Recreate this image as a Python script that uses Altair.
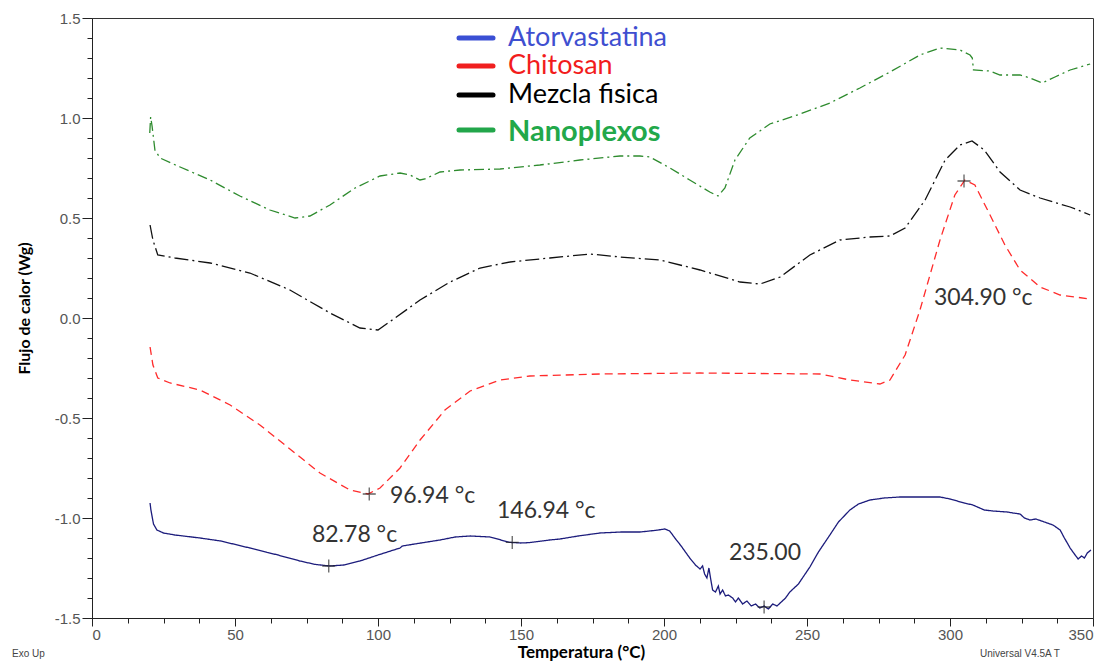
import altair as alt
import pandas as pd

# ---------------- data ----------------
series_names = ["Atorvastatina", "Chitosan", "Mezcla fisica", "Nanoplexos"]

atorva_T = [20.3, 20.6, 21.5, 22.7, 25, 29, 37.8, 45, 55.2, 65, 72.7, 78, 83.2, 88, 93.7, 100, 107.7, 108.5,
            115, 121.7, 127, 132.2, 139.2, 143, 146, 150, 153, 160, 163.6, 170, 177.6, 185, 191.6, 197, 200.3,
            202, 203.8, 206, 209, 211, 212.6, 213.5, 214.2, 215, 215.7, 216.5, 217, 218, 219, 219.6, 220.5,
            221.5, 222.5, 224, 225, 226, 227.5, 229, 230.5, 232, 233.5, 235, 236.5, 238, 239.5, 241, 242.5,
            244, 247, 251, 254, 258, 261, 265, 268, 272, 277, 282.5, 290, 296.5, 300, 305, 308, 312, 315, 320,
            322, 324.5, 326, 328, 330, 333, 336, 338.5, 340, 342, 343.5, 344.8, 346, 347, 348, 349.3]
atorva_W = [-0.925, -0.96, -1.03, -1.06, -1.075, -1.085, -1.10, -1.115, -1.15, -1.185, -1.215, -1.232, -1.24,
            -1.235, -1.215, -1.185, -1.15, -1.14, -1.125, -1.11, -1.095, -1.09, -1.095, -1.11, -1.122, -1.125,
            -1.123, -1.11, -1.105, -1.09, -1.075, -1.07, -1.07, -1.062, -1.055, -1.065, -1.10, -1.14, -1.20,
            -1.235, -1.255, -1.24, -1.28, -1.30, -1.25, -1.32, -1.36, -1.37, -1.34, -1.38, -1.36, -1.39, -1.385,
            -1.40, -1.42, -1.40, -1.43, -1.415, -1.44, -1.43, -1.45, -1.44, -1.455, -1.43, -1.44, -1.42, -1.40,
            -1.37, -1.33, -1.245, -1.17, -1.085, -1.02, -0.96, -0.93, -0.91, -0.90, -0.895, -0.895, -0.895,
            -0.905, -0.925, -0.935, -0.96, -0.965, -0.97, -0.975, -0.98, -1.0, -1.01, -1.005, -1.02, -1.035,
            -1.06, -1.10, -1.15, -1.18, -1.205, -1.19, -1.20, -1.175, -1.16]

chitosan_T = [20.3, 21.3, 23, 27.3, 37.8, 48.3, 58.7, 69.2, 79.7, 90.2, 96.5, 100.7, 107.7, 114.7, 123.4,
              132.2, 142.7, 153.1, 177.6, 212.6, 254.5, 265, 275.5, 279, 284.3, 289.5, 296.5, 301.7, 305.2,
              308.7, 314, 319.2, 324.5, 331.5, 338.5, 349]
chitosan_W = [-0.145, -0.235, -0.30, -0.325, -0.36, -0.435, -0.535, -0.655, -0.775, -0.86, -0.88, -0.85,
              -0.75, -0.61, -0.46, -0.365, -0.31, -0.29, -0.28, -0.275, -0.28, -0.31, -0.33, -0.31, -0.185,
              0.04, 0.39, 0.615, 0.69, 0.665, 0.515, 0.365, 0.24, 0.155, 0.115, 0.095]

mezcla_T = [20.3, 21.3, 23, 29, 41.3, 55.2, 69.2, 83.2, 93.7, 100, 106, 114.7, 125.2, 135.7, 146.2, 160.1,
            174.1, 184.6, 198.6, 212.6, 226.6, 233.6, 240.6, 251, 261.5, 272, 279, 284.3, 291.3, 298.3,
            303.5, 307.7, 312, 317.5, 324.5, 331.5, 342, 349]
mezcla_W = [0.465, 0.39, 0.315, 0.30, 0.275, 0.225, 0.14, 0.025, -0.05, -0.06, 0.0, 0.09, 0.18, 0.25, 0.28,
            0.30, 0.32, 0.305, 0.29, 0.24, 0.18, 0.17, 0.205, 0.315, 0.39, 0.405, 0.41, 0.45, 0.59, 0.79,
            0.865, 0.885, 0.84, 0.73, 0.64, 0.60, 0.555, 0.515]

nano_T = [20.2, 20.5, 21.0, 22, 23.8, 30.8, 41.3, 51.7, 62.2, 71, 76.2, 83.2, 92, 100.7, 107.7, 111.2, 114.7,
          116.4, 121.7, 128.7, 142.7, 156.6, 170.6, 184.6, 191.6, 195.1, 202.1, 209, 216, 218.9, 221.3, 224.8,
          230, 237, 247.6, 258, 268.5, 279, 289.5, 296.5, 303.5, 307, 307.8, 308.2, 314, 317.5, 324.5, 328,
          332.2, 336.7, 342, 349]
nano_W = [0.925, 1.005, 0.96, 0.84, 0.80, 0.755, 0.69, 0.61, 0.54, 0.50, 0.51, 0.565, 0.65, 0.71, 0.725,
          0.715, 0.69, 0.695, 0.73, 0.74, 0.745, 0.765, 0.79, 0.81, 0.81, 0.805, 0.75, 0.69, 0.63, 0.61, 0.65,
          0.79, 0.90, 0.97, 1.02, 1.075, 1.15, 1.23, 1.315, 1.35, 1.34, 1.315, 1.30, 1.24, 1.235, 1.215, 1.215,
          1.20, 1.175, 1.205, 1.24, 1.27]

peak_T = [82.78, 146.94, 235.0, 96.94, 304.90]
peak_W = [-1.24, -1.122, -1.445, -0.88, 0.685]

note_text = ["82.78 °c", "146.94 °c", "235.00", "96.94 °c", "304.90 °c"]
note_T = [76.9, 141.6, 222.7, 104.2, 294.4]
note_W = [-1.085, -0.965, -1.175, -0.89, 0.10]

x_ticks = [i * 12.5 for i in range(29)]
y_ticks = [round(-1.5 + 0.1 * i, 1) for i in range(31)]

# ---------------- styles ----------------
line_colors = ["#1c1c7c", "#ff2b2b", "#111111", "#2e8b2e"]
line_dashes = [[1, 0], [8, 5], [14, 4, 2, 4], [10, 4, 2, 4]]
legend_line_colors = ["#3a4fd4", "#f01f1f", "#000000", "#22a64a"]
legend_text_colors = ["#3f4fd0", "#f21c1c", "#000000", "#22a84a"]

rows = []
for name, Ts, Ws in zip(series_names,
                        [atorva_T, chitosan_T, mezcla_T, nano_T],
                        [atorva_W, chitosan_W, mezcla_W, nano_W]):
    for i, (t, w) in enumerate(zip(Ts, Ws)):
        rows.append({"serie": name, "T": t, "W": w, "i": i})
df = pd.DataFrame(rows)

peaks = pd.DataFrame({"T": peak_T, "W": peak_W})
notes = pd.DataFrame({"T": note_T, "W": note_W, "txt": note_text})

xscale = alt.Scale(domain=[0, 350], nice=False, zero=False)
yscale = alt.Scale(domain=[-1.5, 1.5], nice=False, zero=False)

major_y = "abs(datum.value*2 - round(datum.value*2)) < 0.01"

x_axis = alt.Axis(
    values=x_ticks, tickCount=200, title="Temperatura (°C)", grid=False, format="d", labelOverlap=False,
    labelExpr="datum.value % 50 == 0 ? datum.label : ''",
    tickSize={"condition": {"test": "datum.value % 50 == 0", "value": 8}, "value": 5},
    domainColor="#222", tickColor="#222", labelColor="#555", labelFont="Liberation Sans",
    labelFontSize=15, labelPadding=1, titleFont="Lato", titleFontSize=17, titleFontWeight="bold",
    titleColor="black", titleX=489, titleY=26,
)
y_axis = alt.Axis(
    values=y_ticks, tickCount=200, title="Flujo de calor (Wg)", grid=False, labelOverlap=False,
    labelExpr=major_y + " ? ((datum.value < 0 ? '-' : '') + format(abs(datum.value), '.1f')) : ''",
    tickSize={"condition": {"test": major_y, "value": 10}, "value": 5},
    domainColor="#222", tickColor="#222", labelColor="#555", labelFont="Liberation Sans",
    labelFontSize=15, labelPadding=2, titleFont="Lato", titleFontSize=16, titleFontWeight="bold",
    titleColor="black", titleX=-60, titleY=290,
)

lines = alt.Chart(df).mark_line(strokeWidth=1.3, clip=True).encode(
    x=alt.X("T:Q", scale=xscale, axis=x_axis),
    y=alt.Y("W:Q", scale=yscale, axis=y_axis),
    color=alt.Color("serie:N", scale=alt.Scale(domain=series_names, range=line_colors), legend=None),
    strokeDash=alt.StrokeDash("serie:N", scale=alt.Scale(domain=series_names, range=line_dashes), legend=None),
    order="i:Q",
)

markers = alt.Chart(peaks).mark_point(
    shape="M-1,0L1,0M0,-1L0,1", size=170, filled=False, color="#222", strokeWidth=1.3
).encode(x=alt.X("T:Q", scale=xscale), y=alt.Y("W:Q", scale=yscale))

labels = alt.Chart(notes).mark_text(
    align="left", baseline="middle", font="Lato", fontSize=23, color="#333"
).encode(x=alt.X("T:Q", scale=xscale), y=alt.Y("W:Q", scale=yscale), text="txt:N")

# custom legend (inside plot, as in the original)
legend_layers = []
legend_y = [20, 48, 77, 112]
for k, name in enumerate(series_names):
    bold = name == "Nanoplexos"
    legend_layers.append(
        alt.Chart(pd.DataFrame({"n": [name]})).mark_rule(strokeWidth=5, strokeCap="round",
                                                          color=legend_line_colors[k]).encode(
            x=alt.value(367), x2=alt.value(401), y=alt.value(legend_y[k])
        )
    )
    legend_layers.append(
        alt.Chart(pd.DataFrame({"n": [name]})).mark_text(
            align="left", baseline="middle", font="Lato", fontSize=29 if bold else 27,
            fontWeight="bold" if bold else "normal", color=legend_text_colors[k]
        ).encode(x=alt.value(416), y=alt.value(legend_y[k] + (2 if bold else 0)), text="n:N")
    )

corner = alt.Chart(pd.DataFrame({"t": ["Exo Up"]})).mark_text(
    align="left", baseline="middle", font="Liberation Sans", fontSize=10, color="#444"
).encode(x=alt.value(-80), y=alt.value(636), text="t:N")
corner2 = alt.Chart(pd.DataFrame({"t": ["Universal V4.5A T"]})).mark_text(
    align="left", baseline="middle", font="Liberation Sans", fontSize=10, color="#444"
).encode(x=alt.value(888), y=alt.value(636), text="t:N")

chart = alt.layer(lines, markers, labels, *legend_layers, corner, corner2).properties(
    width=1001, height=600,
    autosize=alt.AutoSizeParams(type="none"),
    padding={"left": 84, "top": 10, "right": 1, "bottom": 46},
    background="white",
).configure_view(stroke="#333", strokeWidth=1)

chart.save("out.html", embed_options={"renderer": "svg", "actions": False})
